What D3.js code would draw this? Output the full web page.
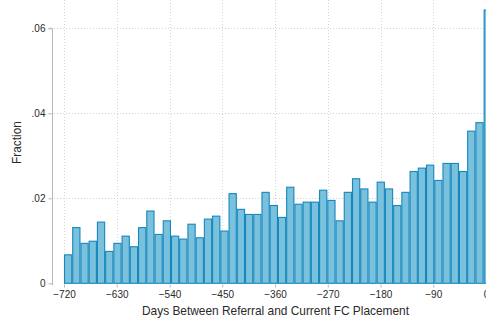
<!DOCTYPE html>
<html>
<head>
<meta charset="utf-8">
<script src="https://cdn.jsdelivr.net/npm/d3@7"></script>
<style>
    body { margin: 0; background: #fff; }
    svg { display: block; }
</style>
</head>
<body>
<div id="chart"></div>
<script>

// Histogram of days between referral and current FC placement
// 52 bins of equal width from -720 to +10 (last bin is the spike at 0)

const binStart = -720
const binWidth = 730/52

const fractions = [
    0.0067, 0.0131, 0.0094, 0.0099, 0.0144, 0.0075, 0.0094, 0.0111, 0.0086, 0.0131,
    0.0170, 0.0115, 0.0147, 0.0111, 0.0104, 0.0139, 0.0107, 0.0151, 0.0158, 0.0123,
    0.0211, 0.0174, 0.0162, 0.0162, 0.0214, 0.0183, 0.0155, 0.0226, 0.0186, 0.0191,
    0.0191, 0.0219, 0.0195, 0.0147, 0.0214, 0.0246, 0.0222, 0.0191, 0.0238, 0.0222,
    0.0183, 0.0214, 0.0263, 0.0271, 0.0278, 0.0242, 0.0282, 0.0282, 0.0263, 0.0358,
    0.0378, 0.0643
]

const xTicks = [-720, -630, -540, -450, -360, -270, -180, -90, 0]
const yTicks = [0, 0.02, 0.04, 0.06]
const yTickLabels = ['0', '.02', '.04', '.06']

const xTitle = 'Days Between Referral and Current FC Placement'
const yTitle = 'Fraction'

var width = 486,
    height = 322,
    fill = '#79c1dc',
    stroke = '#1787bd',
    gridColor = '#d4d4d4',
    axisColor = '#b8b8b8',
    textColor = '#2a2a2a',
    font = 'Liberation Sans, Arial, sans-serif'

var xScale = d3.scaleLinear().domain([-720, 0]).range([64, 486]),
    yScale = d3.scaleLinear().domain([0, 0.06]).range([283.3, 28.3])

var bins = fractions.map((f, i) => ({
    x0: binStart + i*binWidth,
    x1: binStart + (i+1)*binWidth,
    value: f
}))

var svg = d3.select('#chart')
    .append('svg')
    .attr('width', width)
    .attr('height', height)
    .attr('font-family', font)

// grid
svg.append('g')
    .selectAll('line')
    .data(yTicks.filter(d => d > 0))
    .join('line')
    .attr('x1', 54)
    .attr('x2', width)
    .attr('y1', d => Math.round(yScale(d)) + 0.5)
    .attr('y2', d => Math.round(yScale(d)) + 0.5)
    .attr('stroke', gridColor)
    .attr('stroke-dasharray', '1,2')

svg.append('g')
    .selectAll('line')
    .data(xTicks)
    .join('line')
    .attr('x1', d => Math.round(xScale(d)) + 0.5)
    .attr('x2', d => Math.round(xScale(d)) + 0.5)
    .attr('y1', 0)
    .attr('y2', 283)
    .attr('stroke', gridColor)
    .attr('stroke-dasharray', '1,2')

// bars
svg.append('g')
    .selectAll('rect')
    .data(bins)
    .join('rect')
    .attr('x', d => xScale(d.x0) + 0.5)
    .attr('y', d => yScale(d.value))
    .attr('width', d => xScale(d.x1) - xScale(d.x0) - 1)
    .attr('height', d => yScale(0) - yScale(d.value))
    .attr('fill', fill)
    .attr('stroke', stroke)
    .attr('stroke-width', 1.1)

// y axis
var yAxis = d3.axisLeft(yScale)
    .tickValues(yTicks)
    .tickFormat((d, k) => yTickLabels[k])
    .tickSize(4)
    .tickPadding(3)

svg.append('g')
    .attr('transform', 'translate(52.5,0)')
    .call(yAxis)
    .call(g => g.select('.domain').attr('stroke', axisColor).attr('d', `M-4,${yScale(0.06)}H0V${yScale(0)+2}`))
    .call(g => g.selectAll('.tick line').attr('stroke', axisColor))
    .call(g => g.selectAll('.tick text')
        .attr('fill', textColor)
        .attr('font-size', '10px')
        .attr('font-family', font))

// x axis (no domain line)
var xAxis = d3.axisBottom(xScale)
    .tickValues(xTicks)
    .tickSize(3)
    .tickPadding(3)

svg.append('g')
    .attr('transform', 'translate(0,284.5)')
    .call(xAxis)
    .call(g => g.select('.domain').remove())
    .call(g => g.selectAll('.tick line').attr('stroke', axisColor))
    .call(g => g.selectAll('.tick text')
        .attr('fill', textColor)
        .attr('font-size', '10px')
        .attr('font-family', font))

// titles
svg.append('text')
    .attr('x', 275.5)
    .attr('y', 314.5)
    .attr('text-anchor', 'middle')
    .attr('font-size', '11.9px')
    .attr('fill', textColor)
    .text(xTitle)

svg.append('text')
    .attr('transform', 'translate(20.5,142.5) rotate(-90)')
    .attr('text-anchor', 'middle')
    .attr('font-size', '11.9px')
    .attr('fill', textColor)
    .text(yTitle)

</script>
</body>
</html>
